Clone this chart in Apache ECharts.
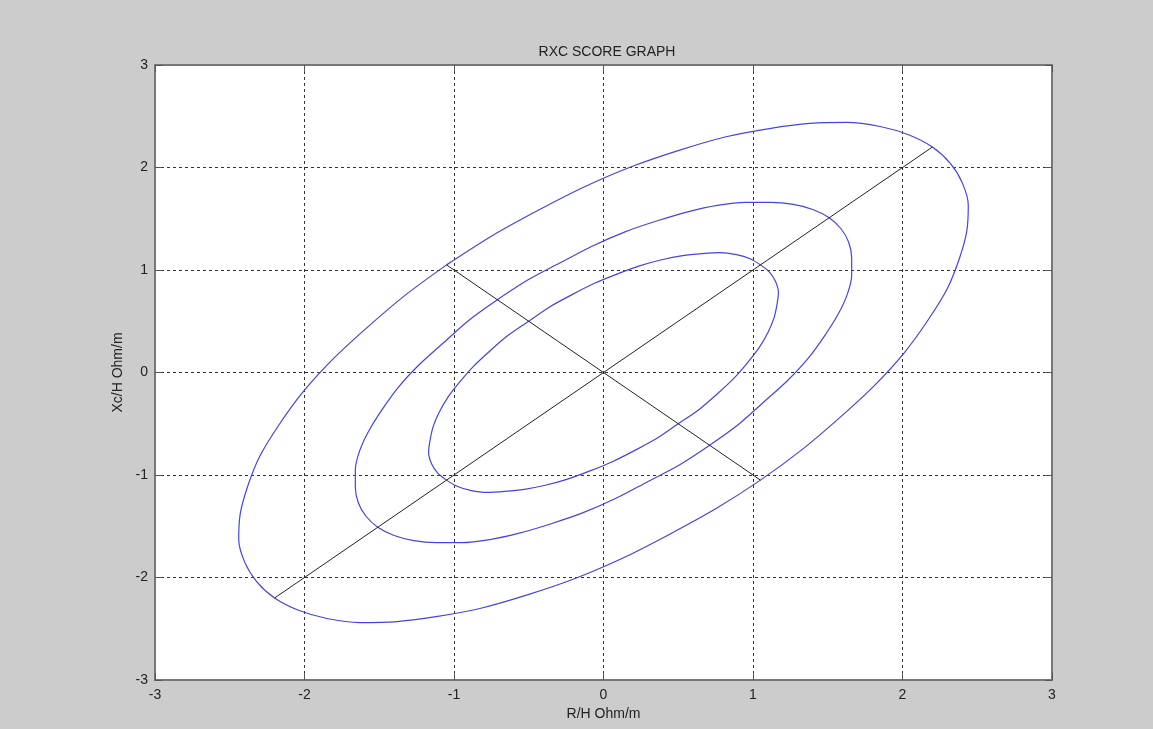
<!DOCTYPE html>
<html>
	<head>
		<meta charset="utf-8" />
		<title>RXC SCORE GRAPH</title>
		<script src="https://cdn.jsdelivr.net/npm/echarts@6/dist/echarts.min.js"></script>
		<style>
			html, body { margin: 0; padding: 0; background: #cccccc; }
		</style>
	</head>
	<body>
		<div id="main" style="width: 1153px;height: 729px;"></div>
		<script type="text/javascript">
			// tick labels
			var xTicks = [-3, -2, -1, 0, 1, 2, 3];
			var yTicks = [-3, -2, -1, 0, 1, 2, 3];

			// rings, [R/H, Xc/H]
			var outerRing = [
				[-1.05, 1.05], [-1.33, 0.75], [-1.58, 0.44], [-1.81, 0.13], [-2.01, -0.19], [-2.17, -0.51],
				[-2.30, -0.82], [-2.38, -1.11], [-2.43, -1.38], [-2.44, -1.63], [-2.40, -1.85], [-2.32, -2.04],
				[-2.20, -2.20], [-2.04, -2.32], [-1.85, -2.40], [-1.63, -2.44], [-1.38, -2.43], [-1.11, -2.38],
				[-0.82, -2.30], [-0.51, -2.17], [-0.19, -2.01], [0.13, -1.81], [0.44, -1.58], [0.75, -1.33],
				[1.05, -1.05], [1.33, -0.75], [1.58, -0.44], [1.81, -0.13], [2.01, 0.19], [2.17, 0.51],
				[2.30, 0.82], [2.38, 1.11], [2.43, 1.38], [2.44, 1.63], [2.40, 1.85], [2.32, 2.04],
				[2.20, 2.20], [2.04, 2.32], [1.85, 2.40], [1.63, 2.44], [1.38, 2.43], [1.11, 2.38],
				[0.82, 2.30], [0.51, 2.17], [0.19, 2.01], [-0.13, 1.81], [-0.44, 1.58], [-0.75, 1.33],
				[-1.05, 1.05]
			];
			var middleRing = [
				[-0.71, 0.71], [-0.90, 0.51], [-1.07, 0.29], [-1.23, 0.08], [-1.37, -0.14], [-1.48, -0.36],
				[-1.57, -0.57], [-1.63, -0.76], [-1.66, -0.95], [-1.66, -1.12], [-1.64, -1.27], [-1.59, -1.40],
				[-1.51, -1.51], [-1.40, -1.59], [-1.27, -1.64], [-1.12, -1.66], [-0.95, -1.66], [-0.76, -1.63],
				[-0.57, -1.57], [-0.36, -1.48], [-0.14, -1.37], [0.08, -1.23], [0.29, -1.07], [0.51, -0.90],
				[0.71, -0.71], [0.90, -0.51], [1.07, -0.29], [1.23, -0.08], [1.37, 0.14], [1.48, 0.36],
				[1.57, 0.57], [1.63, 0.76], [1.66, 0.95], [1.66, 1.12], [1.64, 1.27], [1.59, 1.40],
				[1.51, 1.51], [1.40, 1.59], [1.27, 1.64], [1.12, 1.66], [0.95, 1.66], [0.76, 1.63],
				[0.57, 1.57], [0.36, 1.48], [0.14, 1.37], [-0.08, 1.23], [-0.29, 1.07], [-0.51, 0.90],
				[-0.71, 0.71]
			];
			var innerRing = [
				[-0.50, 0.50], [-0.64, 0.36], [-0.76, 0.21], [-0.87, 0.06], [-0.96, -0.09], [-1.04, -0.24],
				[-1.10, -0.39], [-1.14, -0.53], [-1.16, -0.66], [-1.17, -0.78], [-1.15, -0.89], [-1.11, -0.98],
				[-1.05, -1.05], [-0.98, -1.11], [-0.89, -1.15], [-0.78, -1.17], [-0.66, -1.16], [-0.53, -1.14],
				[-0.39, -1.10], [-0.24, -1.04], [-0.09, -0.96], [0.06, -0.87], [0.21, -0.76], [0.36, -0.64],
				[0.50, -0.50], [0.64, -0.36], [0.76, -0.21], [0.87, -0.06], [0.96, 0.09], [1.04, 0.24],
				[1.10, 0.39], [1.14, 0.53], [1.16, 0.66], [1.17, 0.78], [1.15, 0.89], [1.11, 0.98],
				[1.05, 1.05], [0.98, 1.11], [0.89, 1.15], [0.78, 1.17], [0.66, 1.16], [0.53, 1.14],
				[0.39, 1.10], [0.24, 1.04], [0.09, 0.96], [-0.06, 0.87], [-0.21, 0.76], [-0.36, 0.64],
				[-0.50, 0.50]
			];
			var diagonalLine = [[-2.2, -2.2], [2.2, 2.2]];
			var crossLine = [[-1.05, 1.05], [1.05, -1.05]];

			var font = 'Liberation Sans, Arial, sans-serif';
			var ringColor = '#4444e2';

			var myChart = echarts.init(document.getElementById('main'));

			function ring(data) {
				return {
					type: 'line',
					data: data,
					smooth: 0.3,
					showSymbol: false,
					silent: true,
					lineStyle: { color: ringColor, width: 1.2, join: 'round' }
				};
			}
			function stick(data) {
				return {
					type: 'line',
					data: data,
					showSymbol: false,
					silent: true,
					lineStyle: { color: '#222', width: 1 }
				};
			}

			var gridLine = { show: true, lineStyle: { color: '#333', width: 1, type: [3, 3] } };
			var boxLine = { show: true, onZero: false, lineStyle: { color: '#777', width: 2 } };
			var inTick = { show: true, inside: true, length: 7, lineStyle: { color: '#555' } };

			myChart.setOption({
				animation: false,
				backgroundColor: '#cccccc',
				title: {
					text: 'RXC SCORE GRAPH',
					left: 602,
					top: 40,
					textAlign: 'center',
					textStyle: { fontFamily: font, fontSize: 14, fontWeight: 'normal', color: '#222' }
				},
				grid: { left: 155, right: 101, top: 65, bottom: 49, show: true, backgroundColor: '#ffffff', borderWidth: 0 },
				xAxis: [{
					type: 'value',
					min: xTicks[0],
					max: xTicks[xTicks.length - 1],
					interval: 1,
					name: 'R/H Ohm/m',
					nameLocation: 'middle',
					nameGap: 26,
					nameTextStyle: { fontFamily: font, fontSize: 14, color: '#222' },
					axisLine: boxLine,
					axisTick: inTick,
					axisLabel: { fontFamily: font, fontSize: 14, color: '#222', margin: 8 },
					splitLine: gridLine
				}, {
					type: 'value',
					position: 'top',
					min: xTicks[0],
					max: xTicks[xTicks.length - 1],
					interval: 1,
					axisLine: boxLine,
					axisTick: inTick,
					axisLabel: { show: false },
					splitLine: { show: false }
				}],
				yAxis: [{
					type: 'value',
					min: yTicks[0],
					max: yTicks[yTicks.length - 1],
					interval: 1,
					name: 'Xc/H Ohm/m',
					nameLocation: 'middle',
					nameGap: 30,
					nameTextStyle: { fontFamily: font, fontSize: 14, color: '#222' },
					axisLine: boxLine,
					axisTick: inTick,
					axisLabel: { fontFamily: font, fontSize: 14, color: '#222', margin: 7 },
					splitLine: gridLine
				}, {
					type: 'value',
					position: 'right',
					min: yTicks[0],
					max: yTicks[yTicks.length - 1],
					interval: 1,
					axisLine: boxLine,
					axisTick: inTick,
					axisLabel: { show: false },
					splitLine: { show: false }
				}],
				series: [
					ring(outerRing),
					ring(middleRing),
					ring(innerRing),
					stick(diagonalLine),
					stick(crossLine)
				]
			});
		</script>
	</body>
</html>
